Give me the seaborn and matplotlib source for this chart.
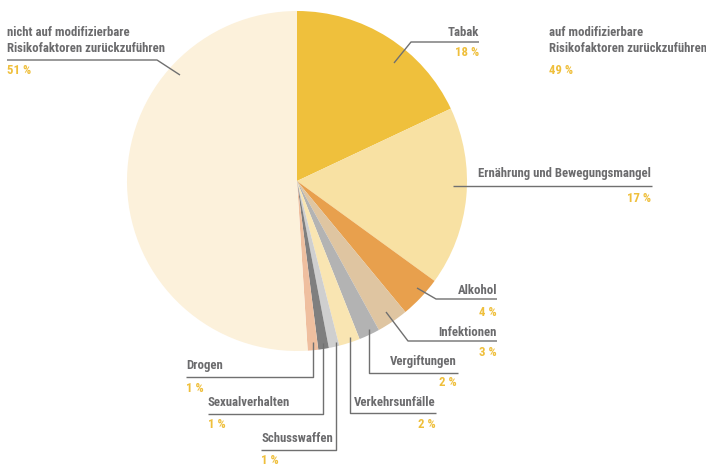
import matplotlib
matplotlib.use("Agg")
import matplotlib.pyplot as plt
import seaborn as sns

sns.set_theme(style="white")
plt.rcParams['font.family'] = ['Roboto Condensed', 'Fira Sans Condensed', 'DejaVu Sans']

categories = ["Tabak", "Ernährung und Bewegungsmangel", "Alkohol", "Infektionen",
              "Vergiftungen", "Verkehrsunfälle", "Schusswaffen", "Sexualverhalten",
              "Drogen", "nicht auf modifizierbare\nRisikofaktoren zurückzuführen"]
values = [18, 17, 4, 3, 2, 2, 1, 1, 1, 51]
pct_labels = ["18 %", "17 %", "4 %", "3 %", "2 %", "2 %", "1 %", "1 %", "1 %", "51 %"]
colors = ["#EFC03C", "#F8E1A3", "#E8A04D", "#DFC5A1", "#B3B3B3",
          "#F9E5B2", "#CFCFCF", "#7F7F7F", "#EFBF9F", "#FCF1DB"]
modifiable_label = "auf modifizierbare\nRisikofaktoren zurückzuführen"
modifiable_pct = "49 %"

TXT = "#6B6B6D"
PCT = "#EFBF3B"
LINE = "#707070"

fig = plt.figure(figsize=(7.06, 4.66), dpi=100)
ax = fig.add_axes([0, 0, 1, 1])
ax.pie(values, colors=colors, startangle=-90, counterclock=True,
       center=(297, 181), radius=170, wedgeprops=dict(linewidth=0))
ax.set_xlim(0, 706)
ax.set_ylim(466, 0)
ax.set_aspect('auto')
ax.axis('off')

fs = 9.2

def label(lines, x, ys, ha, pct, pct_y, path):
    for t, y in zip(lines, ys):
        ax.text(x, y, t, ha=ha, va='center', fontsize=fs, fontweight='bold', color=TXT)
    ax.text(x, pct_y, pct, ha=ha, va='center', fontsize=fs, fontweight='bold', color=PCT)
    if path:
        xs, yv = zip(*path)
        ax.plot(xs, yv, color=LINE, lw=1.0, solid_capstyle='butt')

# Tabak
label([categories[0]], 479, [32], 'right', pct_labels[0], 53,
      [(394, 63), (411, 42), (479, 42)])
# Ernährung
label([categories[1]], 651, [174], 'right', pct_labels[1], 198,
      [(453, 186), (652, 186)])
# Alkohol
label([categories[2]], 497, [290], 'right', pct_labels[2], 312,
      [(417, 288), (436, 299), (497, 299)])
# Infektionen
label([categories[3]], 497, [332], 'right', pct_labels[3], 353,
      [(386, 312), (408, 341), (497, 341)])
# Vergiftungen
label([categories[4]], 457, [361], 'right', pct_labels[4], 383,
      [(369, 329), (369, 373), (458, 373)])
# Verkehrsunfälle
label([categories[5]], 436, [403], 'right', pct_labels[5], 424,
      [(350, 337), (350, 413), (436, 413)])
# Schusswaffen
label([categories[6]], 261, [438], 'left', pct_labels[6], 460,
      [(336, 342), (336, 450), (261, 450)])
# Sexualverhalten
label([categories[7]], 208, [403], 'left', pct_labels[7], 425,
      [(323, 343), (323, 414), (208, 414)])
# Drogen
label([categories[8]], 186, [366], 'left', pct_labels[8], 388,
      [(313, 342), (313, 377), (186, 377)])
# nicht modifizierbar
label(categories[9].split("\n"), 7, [32, 48], 'left', pct_labels[9], 70,
      [(180, 75), (157, 60), (7, 60)])
# auf modifizierbare
label(modifiable_label.split("\n"), 549, [33, 48], 'left', modifiable_pct, 71, None)

fig.savefig("out.png", dpi=100)
